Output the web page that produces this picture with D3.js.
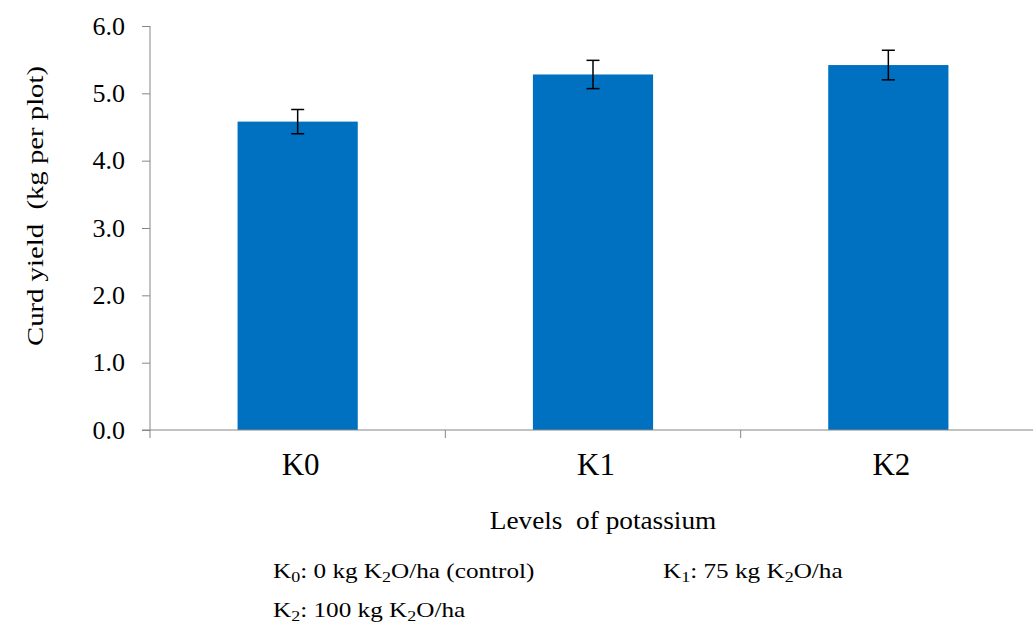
<!DOCTYPE html>
<html><head><meta charset="utf-8">
<script src="https://cdn.jsdelivr.net/npm/d3@7"></script>
<style>body{margin:0;background:#fff;}</style>
</head>
<body><svg id="c" width="1033" height="630" font-family="Liberation Serif"></svg>
<script>
const categories = ["K0","K1","K2"];
const values = [4.58, 5.28, 5.42];
const errors = [0.18, 0.21, 0.22];
const yTicks = [0,1,2,3,4,5,6];
const yTitle = "Curd yield\u00a0\u00a0(kg per plot)";
const xTitle = "Levels\u00a0\u00a0of potassium";

const FONT = "Liberation Serif";
const svg = d3.select("#c");
const m = {left:150, top:26, right:1036, bottom:430};
const x = d3.scaleBand().domain(categories).range([m.left, m.right]).paddingInner(0.593).paddingOuter(0.2965);
const y = d3.scaleLinear().domain([0,6]).range([m.bottom, m.top]);
const axisColor = "#868686";

// bars
svg.selectAll("rect.bar").data(categories).enter().append("rect")
  .attr("x", d=>x(d)).attr("width", x.bandwidth())
  .attr("y", (d,i)=>y(values[i])).attr("height",(d,i)=>y(0)-y(values[i]))
  .attr("fill","#0070c0");

// y axis
const ya = svg.append("g").attr("transform",`translate(${m.left},0)`)
  .call(d3.axisLeft(y).tickValues(yTicks).tickFormat(d3.format(".1f")).tickSize(8).tickPadding(17));
ya.attr("font-family",FONT).attr("font-size",26);
ya.select(".domain").attr("stroke",axisColor).attr("d",`M0,${m.top}V${m.bottom}`);
ya.selectAll(".tick line").attr("stroke",axisColor);
ya.selectAll(".tick text").attr("font-family",FONT).attr("font-size",26).attr("fill","#000");

// x axis
const xg = svg.append("g").attr("transform",`translate(0,${m.bottom})`);
xg.append("line").attr("x1",m.left-8).attr("x2",m.right).attr("y1",0).attr("y2",0).attr("stroke",axisColor);
const step = x.step();
const edges = d3.range(categories.length+1).map(i=>m.left + i*step);
xg.selectAll("line.t").data(edges).enter().append("line")
  .attr("x1",d=>d).attr("x2",d=>d).attr("y1",0).attr("y2",8).attr("stroke",axisColor);
xg.selectAll("text").data(categories).enter().append("text")
  .attr("x",d=>x(d)+x.bandwidth()/2+3).attr("y",45).attr("text-anchor","middle")
  .attr("font-family",FONT).attr("font-size",31).attr("fill","#000").text(d=>d);

// error bars
const eb = svg.append("g").attr("stroke","#000").attr("stroke-width",1.5);
categories.forEach((c,i)=>{
  const cx = x(c)+x.bandwidth()/2;
  const y1 = y(values[i]+errors[i]), y2 = y(values[i]-errors[i]);
  eb.append("line").attr("x1",cx).attr("x2",cx).attr("y1",y1).attr("y2",y2);
  eb.append("line").attr("x1",cx-6.5).attr("x2",cx+6.5).attr("y1",y1).attr("y2",y1);
  eb.append("line").attr("x1",cx-6.5).attr("x2",cx+6.5).attr("y1",y2).attr("y2",y2);
});

// axis titles
svg.append("g").attr("transform","translate(43,206) rotate(-90) scale(1.25,1)")
  .append("text").attr("text-anchor","middle")
  .attr("font-family",FONT).attr("font-size",23).attr("fill","#000").text(yTitle);
svg.append("g").attr("transform","translate(603,529) scale(1.05,1)")
  .append("text").attr("text-anchor","middle")
  .attr("font-family",FONT).attr("font-size",26).attr("fill","#000").text(xTitle);

// footnote legend
const notes = [
  {x:273, y:578, parts:[["K",""],["0","sub"],[": 0 kg K",""],["2","sub"],["O/ha (control)",""]]},
  {x:663, y:578, parts:[["K",""],["1","sub"],[": 75 kg K",""],["2","sub"],["O/ha",""]]},
  {x:273, y:617, parts:[["K",""],["2","sub"],[": 100 kg K",""],["2","sub"],["O/ha",""]]}
];
notes.forEach(n=>{
  const g = svg.append("g").attr("transform",`translate(${n.x},${n.y}) scale(1.2,1)`);
  const t = g.append("text").attr("x",0).attr("y",0).attr("font-family",FONT).attr("font-size",21).attr("fill","#000");
  n.parts.forEach((p,j)=>{
    const ts = t.append("tspan").text(p[0]);
    if(p[1]==="sub"){ ts.attr("dy",4).attr("font-size",15); }
    else if(j>0){ ts.attr("dy",-4); }
  });
});
</script></body></html>
